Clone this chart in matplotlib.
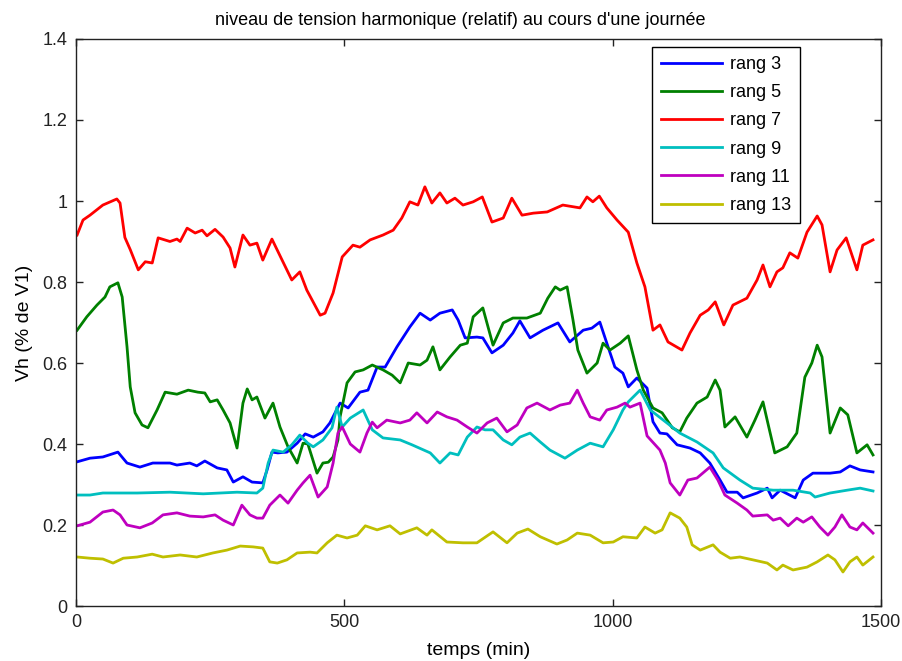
import matplotlib
matplotlib.use("Agg")
import matplotlib.pyplot as plt

# temps (min) / niveau relatif (% de V1)
t3 = [2, 26, 50, 78, 95, 119, 143, 175, 188, 212, 225, 240, 263, 281, 293, 311, 328, 348, 356,
      365, 376, 393, 412, 427, 442, 460, 473, 492, 507, 529, 544, 561, 576, 598, 622, 641, 660,
      678, 701, 712, 725, 747, 758, 775, 796, 814, 827, 846, 870, 898, 920, 945, 961, 976, 989,
      1004, 1019, 1029, 1045, 1064, 1075, 1088, 1101, 1120, 1144, 1163, 1181, 1200, 1213, 1232,
      1243, 1269, 1288, 1297, 1312, 1340, 1355, 1373, 1405, 1424, 1442, 1461, 1485]
v3 = [0.356, 0.365, 0.368, 0.38, 0.353, 0.343, 0.353, 0.353, 0.348, 0.353, 0.346, 0.358, 0.341,
      0.336, 0.306, 0.319, 0.306, 0.304, 0.336, 0.38, 0.378, 0.38, 0.402, 0.425, 0.417, 0.43,
      0.452, 0.501, 0.489, 0.528, 0.533, 0.59, 0.59, 0.64, 0.689, 0.723, 0.706, 0.723, 0.731,
      0.706, 0.662, 0.664, 0.662, 0.625, 0.644, 0.674, 0.704, 0.662, 0.681, 0.699, 0.652, 0.681,
      0.686, 0.701, 0.649, 0.59, 0.575, 0.541, 0.563, 0.538, 0.455, 0.427, 0.425, 0.398, 0.39,
      0.378, 0.353, 0.311, 0.281, 0.281, 0.267, 0.279, 0.291, 0.267, 0.286, 0.267, 0.311, 0.328,
      0.328, 0.331, 0.346, 0.336, 0.331]

t5 = [2, 20, 39, 54, 63, 78, 86, 95, 101, 110, 123, 134, 151, 166, 188, 209, 227, 240, 250, 263,
      274, 287, 300, 311, 319, 328, 337, 352, 367, 380, 395, 412, 423, 432, 449, 460, 470, 479,
      488, 492, 505, 520, 535, 552, 572, 589, 604, 619, 641, 654, 665, 678, 697, 716, 729, 740,
      758, 777, 796, 814, 840, 865, 879, 893, 902, 915, 926, 935, 952, 971, 982, 995, 1014, 1029,
      1045, 1057, 1075, 1092, 1111, 1125, 1138, 1157, 1176, 1191, 1200, 1209, 1228, 1250, 1265,
      1280, 1289, 1302, 1325, 1343, 1358, 1371, 1381, 1390, 1405, 1424, 1438, 1455, 1474, 1485]
v5 = [0.681, 0.714, 0.743, 0.763, 0.788, 0.798, 0.763, 0.64, 0.541, 0.477, 0.447, 0.44, 0.484,
      0.528, 0.523, 0.533, 0.528, 0.526, 0.504, 0.509, 0.484, 0.452, 0.39, 0.501, 0.536, 0.509,
      0.516, 0.464, 0.501, 0.442, 0.393, 0.353, 0.402, 0.40, 0.328, 0.353, 0.355, 0.368, 0.41,
      0.467, 0.551, 0.578, 0.583, 0.595, 0.583, 0.57, 0.551, 0.6, 0.595, 0.607, 0.64, 0.583,
      0.615, 0.644, 0.649, 0.714, 0.736, 0.644, 0.699, 0.711, 0.711, 0.723, 0.76, 0.788, 0.78,
      0.788, 0.706, 0.632, 0.575, 0.6, 0.649, 0.632, 0.649, 0.667, 0.583, 0.533, 0.489, 0.477,
      0.44, 0.43, 0.464, 0.501, 0.516, 0.558, 0.533, 0.442, 0.467, 0.417, 0.459, 0.504, 0.452,
      0.378, 0.393, 0.427, 0.565, 0.6, 0.644, 0.615, 0.427, 0.489, 0.472, 0.378, 0.398, 0.373]

t7 = [2, 13, 26, 50, 76, 82, 91, 101, 116, 129, 142, 153, 175, 188, 194, 207, 222, 235, 244, 259,
      274, 287, 296, 311, 324, 337, 348, 365, 384, 402, 417, 430, 455, 464, 479, 496, 516, 529,
      548, 572, 591, 607, 622, 637, 650, 663, 678, 691, 706, 721, 740, 757, 775, 796, 812, 831,
      852, 878, 907, 939, 952, 963, 975, 989, 1008, 1029, 1045, 1060, 1075, 1088, 1103, 1129,
      1144, 1163, 1178, 1191, 1207, 1224, 1250, 1269, 1280, 1293, 1306, 1317, 1330, 1345, 1362,
      1381, 1390, 1405, 1418, 1435, 1455, 1466, 1485]
v7 = [0.916, 0.953, 0.965, 0.99, 1.005, 0.995, 0.91, 0.88, 0.83, 0.85, 0.847, 0.909, 0.90, 0.906,
      0.90, 0.933, 0.921, 0.928, 0.914, 0.93, 0.911, 0.884, 0.837, 0.916, 0.891, 0.896, 0.854,
      0.906, 0.854, 0.805, 0.825, 0.78, 0.718, 0.723, 0.773, 0.862, 0.891, 0.886, 0.904, 0.916,
      0.928, 0.958, 0.998, 0.99, 1.035, 0.995, 1.02, 0.995, 1.007, 0.99, 0.998, 1.01, 0.948,
      0.958, 1.007, 0.965, 0.97, 0.973, 0.99, 0.983, 1.01, 0.998, 1.012, 0.983, 0.953, 0.923,
      0.847, 0.788, 0.681, 0.694, 0.652, 0.632, 0.674, 0.718, 0.731, 0.751, 0.694, 0.743, 0.76,
      0.805, 0.842, 0.788, 0.825, 0.835, 0.872, 0.859, 0.923, 0.963, 0.941, 0.825, 0.879, 0.909,
      0.83, 0.891, 0.904]

t9 = [2, 26, 50, 114, 175, 237, 300, 337, 348, 358, 367, 386, 402, 417, 432, 442, 460, 477, 486,
      496, 511, 535, 552, 572, 604, 626, 660, 678, 697, 712, 729, 747, 762, 777, 796, 812, 827,
      846, 865, 883, 911, 934, 958, 982, 1001, 1019, 1029, 1051, 1070, 1101, 1125, 1157, 1187,
      1206, 1237, 1261, 1299, 1336, 1368, 1377, 1405, 1437, 1461, 1485]
v9 = [0.274, 0.274, 0.279, 0.279, 0.281, 0.277, 0.281, 0.279, 0.291, 0.353, 0.385, 0.38, 0.398,
      0.422, 0.402, 0.393, 0.41, 0.44, 0.491, 0.442, 0.464, 0.484, 0.435, 0.415, 0.41, 0.398,
      0.378, 0.353, 0.378, 0.373, 0.417, 0.442, 0.435, 0.435, 0.41, 0.398, 0.417, 0.427, 0.405,
      0.385, 0.365, 0.385, 0.402, 0.393, 0.435, 0.484, 0.504, 0.533, 0.484, 0.452, 0.427, 0.405,
      0.378, 0.341, 0.311, 0.291, 0.286, 0.286, 0.279, 0.269, 0.279, 0.286, 0.291, 0.284]

t11 = [2, 26, 50, 69, 82, 95, 119, 142, 162, 188, 212, 237, 259, 274, 293, 309, 324, 337, 348,
       361, 380, 395, 412, 423, 436, 451, 468, 479, 488, 496, 511, 529, 542, 552, 561, 579, 604,
       622, 635, 654, 673, 691, 710, 729, 747, 766, 784, 803, 822, 840, 859, 883, 902, 920, 934,
       945, 958, 976, 989, 1008, 1023, 1032, 1051, 1064, 1088, 1098, 1107, 1125, 1140, 1157, 1181,
       1196, 1209, 1232, 1250, 1261, 1288, 1299, 1312, 1327, 1343, 1355, 1371, 1386, 1401, 1414,
       1427, 1442, 1455, 1466, 1485]
v11 = [0.198, 0.207, 0.232, 0.237, 0.225, 0.2, 0.193, 0.205, 0.225, 0.23, 0.222, 0.22, 0.225,
       0.212, 0.2, 0.249, 0.225, 0.217, 0.217, 0.249, 0.274, 0.254, 0.286, 0.304, 0.323, 0.269,
       0.294, 0.353, 0.427, 0.442, 0.40, 0.38, 0.427, 0.454, 0.44, 0.459, 0.452, 0.459, 0.477,
       0.452, 0.479, 0.467, 0.459, 0.442, 0.427, 0.452, 0.464, 0.43, 0.447, 0.489, 0.501, 0.484,
       0.496, 0.501, 0.533, 0.501, 0.467, 0.459, 0.484, 0.491, 0.501, 0.491, 0.501, 0.42, 0.385,
       0.353, 0.304, 0.274, 0.311, 0.316, 0.343, 0.311, 0.274, 0.254, 0.237, 0.222, 0.225, 0.212,
       0.217, 0.198, 0.217, 0.207, 0.22, 0.195, 0.175, 0.195, 0.225, 0.195, 0.188, 0.205, 0.18]

t13 = [2, 26, 50, 69, 88, 114, 142, 162, 194, 225, 255, 281, 306, 330, 348, 361, 375, 393, 412,
       436, 449, 468, 486, 505, 524, 539, 561, 585, 604, 635, 654, 663, 691, 721, 747, 768, 777,
       803, 822, 842, 865, 896, 915, 934, 958, 982, 1001, 1019, 1045, 1060, 1079, 1092, 1107,
       1125, 1138, 1148, 1163, 1187, 1200, 1219, 1237, 1261, 1288, 1306, 1317, 1336, 1362, 1381,
       1401, 1414, 1429, 1442, 1455, 1466, 1485]
v13 = [0.121, 0.118, 0.116, 0.106, 0.118, 0.121, 0.128, 0.121, 0.126, 0.121, 0.131, 0.138, 0.148,
       0.146, 0.143, 0.109, 0.106, 0.114, 0.131, 0.133, 0.131, 0.156, 0.175, 0.168, 0.175, 0.198,
       0.188, 0.198, 0.178, 0.193, 0.175, 0.188, 0.158, 0.156, 0.156, 0.175, 0.183, 0.156, 0.18,
       0.19, 0.171, 0.153, 0.163, 0.18, 0.175, 0.156, 0.158, 0.171, 0.168, 0.195, 0.18, 0.188,
       0.23, 0.217, 0.195, 0.151, 0.138, 0.151, 0.133, 0.118, 0.121, 0.114, 0.106, 0.089, 0.101,
       0.089, 0.096, 0.109, 0.126, 0.114, 0.084, 0.109, 0.121, 0.101, 0.121]

series = [
    ("rang 3", t3, v3, (0, 0, 1)),
    ("rang 5", t5, v5, (0, 0.5, 0)),
    ("rang 7", t7, v7, (1, 0, 0)),
    ("rang 9", t9, v9, (0, 0.75, 0.75)),
    ("rang 11", t11, v11, (0.75, 0, 0.75)),
    ("rang 13", t13, v13, (0.75, 0.75, 0)),
]

plt.rcParams["font.family"] = ["Liberation Sans", "DejaVu Sans"]

fig = plt.figure(figsize=(9.03, 6.61), dpi=100)
ax = fig.add_axes([0.0842, 0.0832, 0.8915, 0.8578])

for label, t, v, c in series:
    ax.plot(t, v, color=c, linewidth=2.0, label=label)

ax.set_xlim(0, 1500)
ax.set_ylim(0, 1.4)
ax.set_xticks([0, 500, 1000, 1500])
ax.set_yticks([0, 0.2, 0.4, 0.6, 0.8, 1.0, 1.2, 1.4])
ax.set_yticklabels(["0", "0.2", "0.4", "0.6", "0.8", "1", "1.2", "1.4"])
ax.tick_params(direction="in", length=5, width=1, top=True, right=True,
               labelsize=13, colors="#222222", pad=6)
for s in ax.spines.values():
    s.set_linewidth(1.0)
    s.set_color("#222222")

ax.set_title("niveau de tension harmonique (relatif) au cours d'une journée",
             fontsize=13, pad=10, x=0.477)
ax.set_xlabel("temps (min)", fontsize=14, labelpad=8)
ax.set_ylabel("Vh (% de V1)", fontsize=14, labelpad=7)

leg = ax.legend(loc="upper right", bbox_to_anchor=(0.899, 0.986), borderaxespad=0,
                fontsize=13, handlelength=3.4, handletextpad=0.4, labelspacing=0.62,
                fancybox=False, framealpha=1, edgecolor="black", borderpad=0.5)
leg.get_frame().set_linewidth(1.0)

fig.savefig("out.png", dpi=100)
